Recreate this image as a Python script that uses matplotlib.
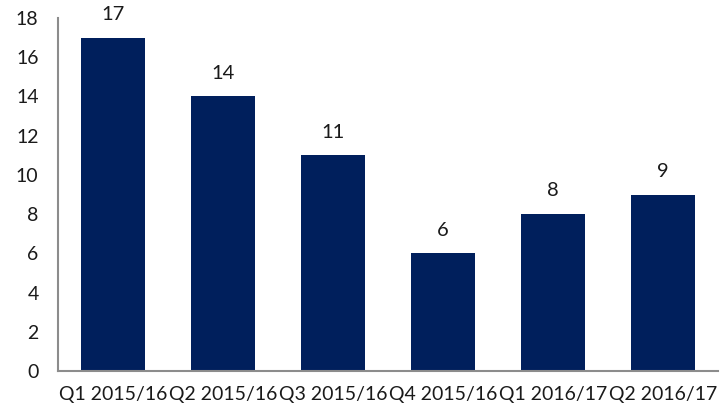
import matplotlib
matplotlib.use("Agg")
import matplotlib.pyplot as plt
import numpy as np

quarters = ["Q1 2015/16", "Q2 2015/16", "Q3 2015/16", "Q4 2015/16", "Q1 2016/17", "Q2 2016/17"]
values = [17, 14, 11, 6, 8, 9]

plt.rcParams["font.family"] = ["Lato", "DejaVu Sans"]

fig = plt.figure(figsize=(7.21, 4.09), dpi=100)
ax = fig.add_axes([58 / 721, 1 - 371 / 409, 660 / 721, 353 / 409])

x = np.arange(len(quarters))
bars = ax.bar(x, values, width=0.58, color="#001f5c", zorder=2)

for xi, v in zip(x, values):
    ax.text(xi, v + 0.75, str(v), ha="center", va="bottom", fontsize=14.5, color="#1a1a1a")

ax.set_xlim(-0.5, len(quarters) - 0.5)
ax.set_ylim(0, 18)
ax.set_yticks(range(0, 19, 2))
ax.set_xticks(x)
ax.set_xticklabels(quarters)
ax.tick_params(axis="both", length=0, labelsize=14, colors="#1a1a1a")
ax.tick_params(axis="y", pad=14)
ax.tick_params(axis="x", pad=11)

for side in ("top", "right"):
    ax.spines[side].set_visible(False)
for side in ("left", "bottom"):
    ax.spines[side].set_color("#8c8c8c")
    ax.spines[side].set_linewidth(1.5)

fig.savefig("out.png", dpi=100)
